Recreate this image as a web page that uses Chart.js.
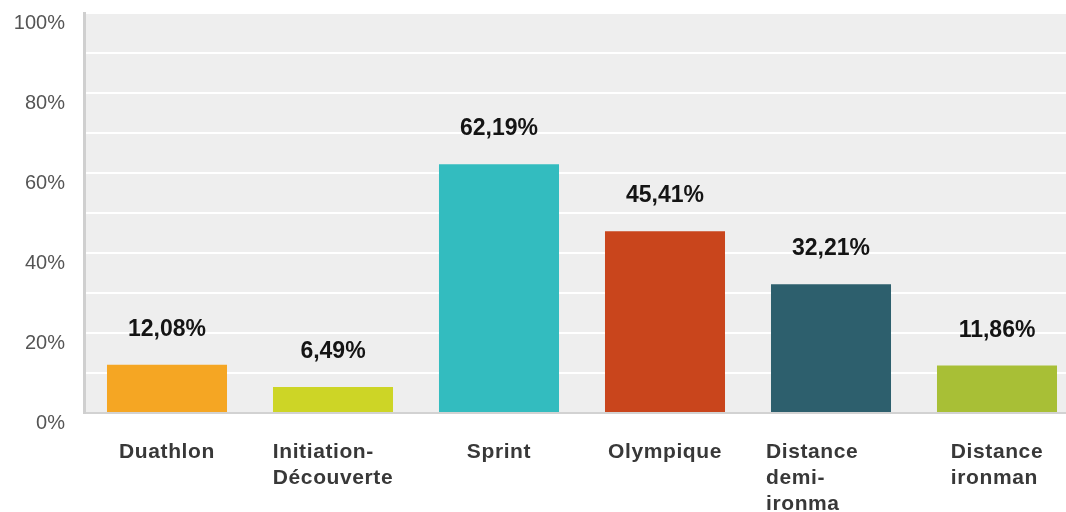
<!DOCTYPE html>
<html>
<head>
<meta charset="utf-8">
<script src="https://cdn.jsdelivr.net/npm/chart.js@4.4.0/dist/chart.umd.min.js"></script>
<style>
  html, body { margin: 0; padding: 0; background: #fff; overflow: hidden; }
  #wrap { position: relative; width: 1080px; height: 512px; }
</style>
</head>
<body>
<div id="wrap"><canvas id="myChart"></canvas></div>
<script>
// data
const categories = ['Duathlon', 'Initiation-Découverte', 'Sprint', 'Olympique', 'Distance demi-ironman', 'Distance ironman'];
const categoryLines = [
    ['Duathlon'],
    ['Initiation-', 'Découverte'],
    ['Sprint'],
    ['Olympique'],
    ['Distance', 'demi-', 'ironma'],
    ['Distance', 'ironman']
];
const percentages = [12.08, 6.49, 62.19, 45.41, 32.21, 11.86];
const barColors = ['#f5a623', '#cdd526', '#33bcbf', '#c9451c', '#2d5f6d', '#a8bf36'];
const yTicks = [0, 20, 40, 60, 80, 100];

const fmt = v => v.toFixed(2).replace('.', ',') + '%';

// grey plot background
const plotBg = {
    id: 'plotBg',
    beforeDraw(chart) {
        const { ctx, chartArea: a } = chart;
        ctx.save();
        ctx.fillStyle = '#eeeeee';
        ctx.fillRect(a.left, a.top, a.right - a.left, a.bottom - a.top);
        ctx.restore();
    }
};

// values above the bars and category labels below
const labels = {
    id: 'labels',
    afterDatasetsDraw(chart) {
        const ctx = chart.ctx;
        const meta = chart.getDatasetMeta(0);
        const xs = chart.scales.x;
        ctx.save();
        ctx.font = 'bold 23px "Liberation Sans", Arial, sans-serif';
        ctx.fillStyle = '#141414';
        ctx.textAlign = 'center';
        ctx.textBaseline = 'alphabetic';
        meta.data.forEach((bar, i) => {
            ctx.fillText(fmt(percentages[i]), bar.x, bar.y - 29);
        });

        ctx.letterSpacing = '0.6px';
        ctx.font = 'bold 21px "Liberation Sans", Arial, sans-serif';
        ctx.fillStyle = '#383838';
        ctx.textBaseline = 'middle';
        ctx.textAlign = 'left';
        categoryLines.forEach((lines, i) => {
            const cx = xs.getPixelForValue(i);
            let w = Math.max(...lines.map(l => ctx.measureText(l).width));
            if (lines.length > 2) w = 130;
            lines.forEach((l, j) => {
                ctx.fillText(l, cx - w / 2, 452 + j * 26);
            });
        });
        ctx.restore();
    }
};

const ctx = document.getElementById('myChart').getContext('2d');
const myChart = new Chart(ctx, {
    type: 'bar',
    data: {
        labels: categories,
        datasets: [{
            data: percentages,
            backgroundColor: barColors,
            borderWidth: 0,
            barPercentage: 0.723,
            categoryPercentage: 1
        }]
    },
    options: {
        responsive: true,
        maintainAspectRatio: false,
        animation: false,
        layout: {
            padding: { top: 13, bottom: 99, left: 0, right: 0 }
        },
        plugins: {
            legend: { display: false },
            tooltip: { enabled: false }
        },
        scales: {
            x: {
                display: false
            },
            y: {
                min: 0,
                max: 100,
                afterFit(scale) {
                    scale.width = 84;
                    scale.paddingTop = 0;
                    scale.paddingBottom = 0;
                },
                afterBuildTicks(scale) {
                    const t = [];
                    for (let v = 0; v <= 100; v += 10) t.push({ value: v });
                    scale.ticks = t;
                },
                ticks: {
                    padding: 19,
                    labelOffset: 10,
                    color: '#555',
                    font: { family: '"Liberation Sans", Arial, sans-serif', size: 20 },
                    callback: v => yTicks.includes(v) ? v + '%' : ''
                },
                grid: {
                    drawTicks: false,
                    lineWidth: 2,
                    color: c => c.tick && c.tick.value === 0 ? '#d2d2d2' : '#ffffff'
                },
                border: { display: true, color: '#cfcfcf', width: 3 }
            }
        }
    },
    plugins: [plotBg, labels]
});
</script>
</body>
</html>
